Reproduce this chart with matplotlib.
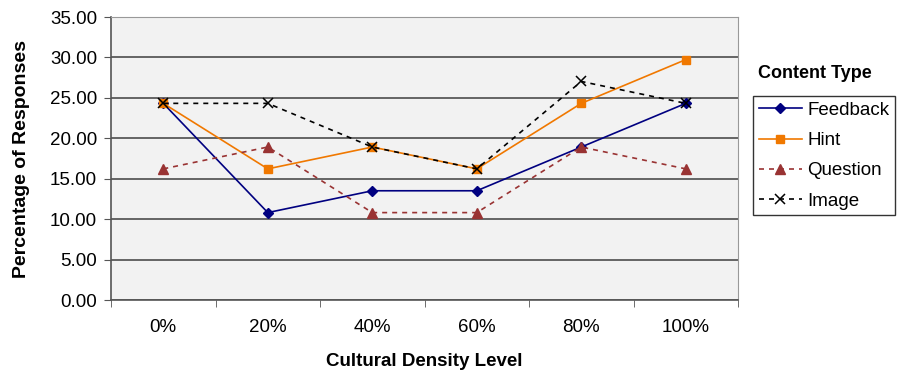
import matplotlib.pyplot as plt

plt.rcParams['font.family'] = ['Liberation Sans', 'DejaVu Sans']

levels = ['0%', '20%', '40%', '60%', '80%', '100%']
feedback = [24.32, 10.81, 13.51, 13.51, 18.92, 24.32]
hint = [24.32, 16.22, 18.92, 16.22, 24.32, 29.73]
question = [16.22, 18.92, 10.81, 10.81, 18.92, 16.22]
image = [24.32, 24.32, 18.92, 16.22, 27.03, 24.32]

fig = plt.figure(figsize=(9.05, 3.73), dpi=100)
ax = fig.add_axes([0.1227, 0.1957, 0.6928, 0.7587])
ax.set_facecolor('#F2F2F2')

x = range(len(levels))
ax.plot(x, feedback, color='#000080', marker='D', markersize=5, lw=1.2, label='Feedback')
ax.plot(x, hint, color='#F07800', marker='s', markersize=5.5, lw=1.2, label='Hint')
ax.plot(x, question, color='#993333', marker='^', markersize=6.5, lw=1.2, ls=(0, (3, 3)), label='Question')
ax.plot(x, image, color='black', marker='x', markersize=7, mew=1.1, lw=1.2, ls=(0, (3, 3)), label='Image')

ax.set_ylim(0, 35)
ax.set_yticks(range(0, 36, 5))
ax.set_yticklabels([f'{v:.2f}' for v in range(0, 36, 5)], fontsize=13.5)
ax.yaxis.grid(True, color='#4d4d4d', lw=1.2)
ax.set_axisbelow(True)

ax.set_xlim(-0.5, len(levels) - 0.5)
ax.set_xticks(list(x))
ax.set_xticklabels(levels, fontsize=13.5)
ax.set_xticks([i - 0.5 for i in range(len(levels) + 1)], minor=True)
ax.tick_params(axis='x', which='major', length=0, pad=14)
ax.tick_params(axis='x', which='minor', length=5, color='#555555')
ax.tick_params(axis='y', length=5, color='#555555', pad=5)

for side in ['left', 'bottom']:
    ax.spines[side].set_color('#555555')
    ax.spines[side].set_linewidth(1.2)
for side in ['top', 'right']:
    ax.spines[side].set_color('#999999')

ax.set_ylabel('Percentage of Responses', fontsize=14, fontweight='bold', labelpad=14)
ax.set_xlabel('Cultural Density Level', fontsize=13.5, fontweight='bold', labelpad=12)

leg = ax.legend(loc='upper left', bbox_to_anchor=(1.024, 0.72), frameon=True, fancybox=False,
                edgecolor='black', fontsize=13.5, handlelength=2.3, borderpad=0.3,
                labelspacing=0.7, handletextpad=0.3, borderaxespad=0)
leg.get_frame().set_linewidth(1.0)
fig.text(0.838, 0.79, 'Content Type', fontsize=13, fontweight='bold')

fig.savefig('out.png', dpi=100)
